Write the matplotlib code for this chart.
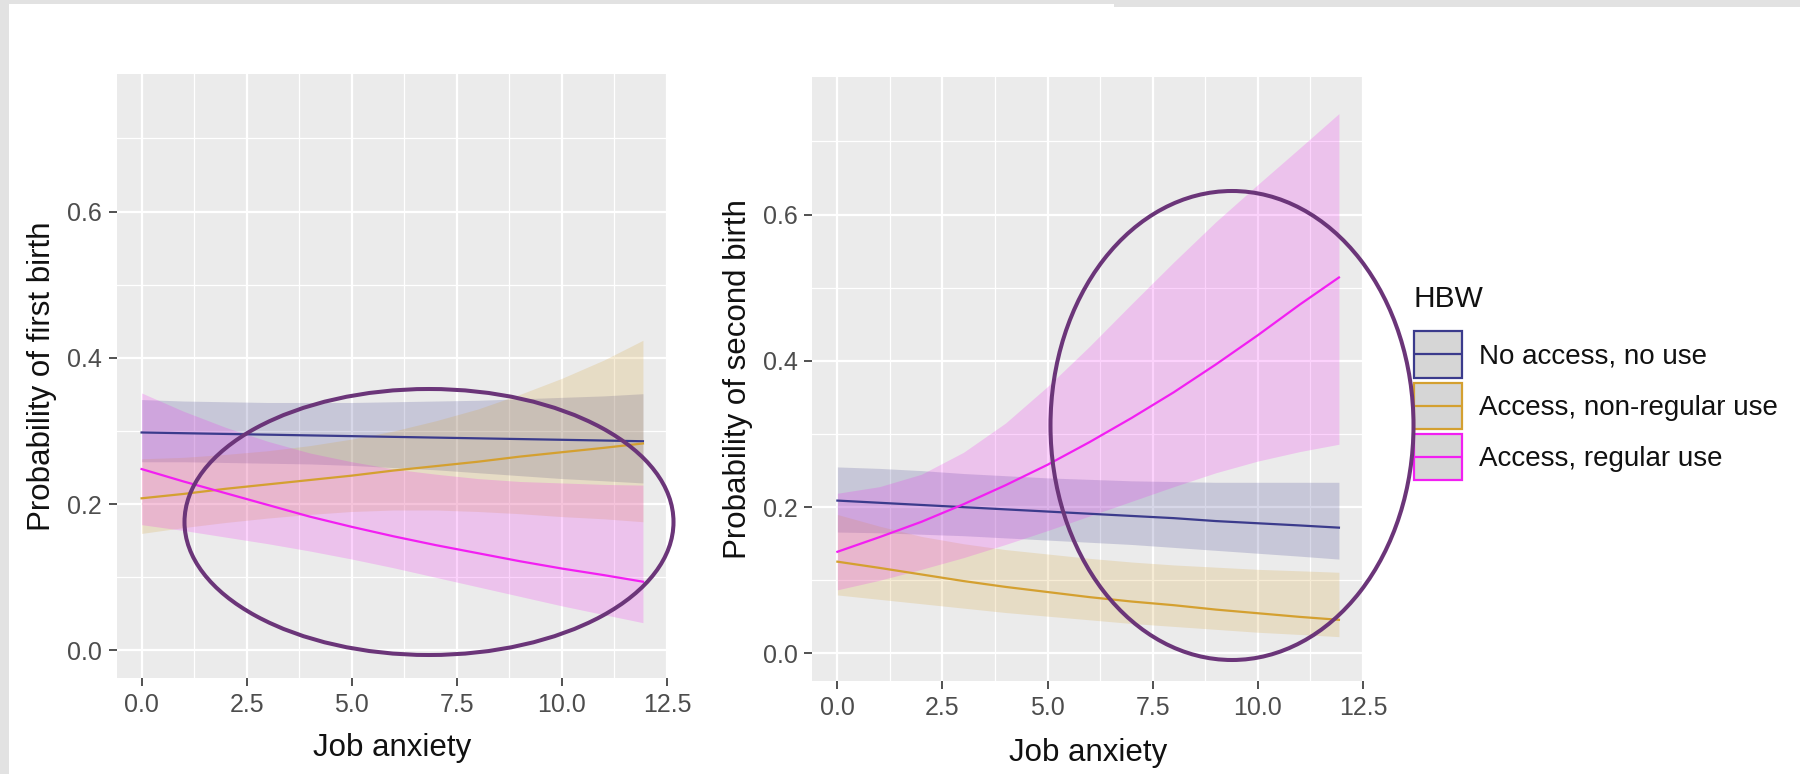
import matplotlib
matplotlib.use("Agg")
import matplotlib.pyplot as plt
from matplotlib.patches import Ellipse, Rectangle
from matplotlib.lines import Line2D

plt.rcParams['font.family'] = ['Liberation Sans', 'DejaVu Sans']

# ---------------- data ----------------
groups = ["No access, no use", "Access, non-regular use", "Access, regular use"]
colors = ["#3B3B8C", "#D4A030", "#F21FF2"]
x_vals = [0, 1, 2, 3, 4, 5, 6, 7, 8, 9, 10, 11, 11.93]

# Panel 1: probability of first birth (fit, upper CI, lower CI per group)
p1_line = [
    [0.298, 0.297, 0.296, 0.295, 0.294, 0.293, 0.292, 0.291, 0.290, 0.289, 0.288, 0.287, 0.286],
    [0.208, 0.214, 0.221, 0.227, 0.233, 0.239, 0.246, 0.252, 0.258, 0.265, 0.271, 0.277, 0.283],
    [0.248, 0.231, 0.215, 0.199, 0.183, 0.169, 0.156, 0.144, 0.133, 0.122, 0.112, 0.103, 0.094],
]
p1_upper = [
    [0.343, 0.341, 0.340, 0.339, 0.339, 0.339, 0.340, 0.341, 0.342, 0.344, 0.346, 0.348, 0.351],
    [0.262, 0.264, 0.268, 0.273, 0.280, 0.289, 0.300, 0.314, 0.330, 0.350, 0.372, 0.397, 0.424],
    [0.352, 0.327, 0.305, 0.286, 0.270, 0.258, 0.248, 0.241, 0.235, 0.231, 0.229, 0.227, 0.226],
]
p1_lower = [
    [0.258, 0.258, 0.257, 0.256, 0.255, 0.253, 0.250, 0.247, 0.243, 0.239, 0.235, 0.232, 0.229],
    [0.160, 0.168, 0.175, 0.181, 0.186, 0.190, 0.192, 0.192, 0.190, 0.187, 0.183, 0.180, 0.176],
    [0.172, 0.164, 0.155, 0.146, 0.136, 0.125, 0.113, 0.100, 0.087, 0.074, 0.061, 0.049, 0.038],
]

# Panel 2: probability of second birth
p2_line = [
    [0.209, 0.206, 0.203, 0.200, 0.197, 0.194, 0.191, 0.188, 0.185, 0.181, 0.178, 0.175, 0.172],
    [0.1255, 0.117, 0.108, 0.099, 0.091, 0.084, 0.077, 0.071, 0.066, 0.060, 0.055, 0.050, 0.046],
    [0.139, 0.159, 0.180, 0.204, 0.230, 0.258, 0.289, 0.322, 0.357, 0.395, 0.435, 0.477, 0.514],
]
p2_upper = [
    [0.255, 0.253, 0.250, 0.246, 0.243, 0.240, 0.238, 0.236, 0.235, 0.234, 0.234, 0.234, 0.234],
    [0.190, 0.174, 0.160, 0.150, 0.142, 0.136, 0.130, 0.125, 0.121, 0.118, 0.115, 0.113, 0.111],
    [0.219, 0.228, 0.245, 0.275, 0.315, 0.365, 0.420, 0.478, 0.535, 0.590, 0.641, 0.691, 0.738],
]
p2_lower = [
    [0.166, 0.165, 0.163, 0.161, 0.158, 0.155, 0.152, 0.149, 0.145, 0.141, 0.137, 0.133, 0.129],
    [0.080, 0.074, 0.068, 0.062, 0.056, 0.051, 0.046, 0.041, 0.037, 0.033, 0.029, 0.026, 0.023],
    [0.087, 0.100, 0.115, 0.131, 0.149, 0.168, 0.188, 0.208, 0.228, 0.247, 0.263, 0.276, 0.286],
]

x_ticks = [0, 2.5, 5, 7.5, 10, 12.5]
x_ticklabels = ["0.0", "2.5", "5.0", "7.5", "10.0", "12.5"]
y_ticks = [0, 0.2, 0.4, 0.6]
y_ticklabels = ["0.0", "0.2", "0.4", "0.6"]
x_minor = [1.25, 3.75, 6.25, 8.75, 11.25]
y_minor = [0.1, 0.3, 0.5, 0.7]

legend_title = "HBW"
xlabel = "Job anxiety"
ylabels = ["Probability of first birth", "Probability of second birth"]

# ---------------- figure ----------------
W, H = 1800, 774
fig = plt.figure(figsize=(W / 100, H / 100), dpi=100)
fig.patch.set_facecolor("white")


def fx(px):
    return px / W


def fy(py):
    return 1 - py / H


# light gray screenshot frame
frame = "#E2E2E2"
fig.add_artist(Rectangle((0, 0), fx(9), 1, transform=fig.transFigure,
                         facecolor=frame, edgecolor="none", zorder=0))
fig.add_artist(Rectangle((0, fy(3.5)), 1, 3.5 / H, transform=fig.transFigure,
                         facecolor=frame, edgecolor="none", zorder=0))
fig.add_artist(Rectangle((fx(1114), fy(7)), 1 - fx(1114), 7 / H, transform=fig.transFigure,
                         facecolor=frame, edgecolor="none", zorder=0))

panels = [
    dict(rect=[116.5, 74.4, 668.0, 677.9], line=p1_line, up=p1_upper, lo=p1_lower,
         ylab=ylabels[0], xlab_y=-0.092),
    dict(rect=[812.3, 77.4, 1364.0, 680.9], line=p2_line, up=p2_upper, lo=p2_lower,
         ylab=ylabels[1], xlab_y=-0.095),
]

for p in panels:
    l, t, r, b = p["rect"]
    ax = fig.add_axes([fx(l), fy(b), (r - l) / W, (b - t) / H])
    ax.set_facecolor("#EBEBEB")
    for s in ax.spines.values():
        s.set_visible(False)
    ax.set_xlim(-0.5965, 12.5265)
    ax.set_ylim(-0.0375, 0.7875)
    ax.set_xticks(x_ticks)
    ax.set_xticklabels(x_ticklabels)
    ax.set_yticks(y_ticks)
    ax.set_yticklabels(y_ticklabels)
    ax.set_xticks(x_minor, minor=True)
    ax.set_yticks(y_minor, minor=True)
    ax.set_axisbelow(True)
    ax.grid(which="major", color="white", linewidth=1.6)
    ax.grid(which="minor", color="white", linewidth=0.9)
    ax.tick_params(which="major", length=6, width=1.2, color="#333333",
                   labelsize=18, labelcolor="#4D4D4D")
    ax.tick_params(axis="x", which="major", pad=5)
    ax.tick_params(axis="y", which="major", pad=4.5)
    ax.tick_params(which="minor", length=0)

    for i in range(3):
        ax.fill_between(x_vals, p["lo"][i], p["up"][i], color=colors[i],
                        alpha=0.2, linewidth=0, zorder=2)
    for i in range(3):
        ax.plot(x_vals, p["line"][i], color=colors[i], linewidth=1.6, zorder=3)

    ax.set_ylabel(p["ylab"], fontsize=22.5, color="#111111")
    ax.yaxis.set_label_coords(-0.107, 0.5)
    ax.set_xlabel(xlabel, fontsize=22.5, color="#111111")
    ax.xaxis.set_label_coords(0.5, p["xlab_y"])

# ---------------- legend (ggplot style, drawn manually) ----------------
fig.text(fx(1413), fy(299), legend_title, fontsize=21.5, color="#111111",
         ha="left", va="center")
key_tops = [331, 382.5, 434]
key_h = 46.5
key_l, key_r = 1413.6, 1462
for i, top in enumerate(key_tops):
    fig.add_artist(Rectangle((fx(key_l), fy(top + key_h)), (key_r - key_l) / W, key_h / H,
                             transform=fig.transFigure, facecolor="#D6D6D6",
                             edgecolor=colors[i], linewidth=1.6, zorder=5))
    cy = fy(top + key_h / 2)
    fig.add_artist(Line2D([fx(key_l + 2), fx(key_r - 2)], [cy, cy], transform=fig.transFigure,
                          color=colors[i], linewidth=1.6, zorder=6))
    fig.text(fx(1479), fy(top + key_h / 2 + 2), groups[i], fontsize=20, color="#111111",
             ha="left", va="center")

# ---------------- highlight ellipses ----------------
ell_color = "#6B3579"
fig.add_artist(Ellipse((fx(429), fy(522)), 489 / W, 266 / H, transform=fig.transFigure,
                       fill=False, edgecolor=ell_color, linewidth=2.9, zorder=10))
fig.add_artist(Ellipse((fx(1232), fy(425.5)), 363 / W, 469 / H, transform=fig.transFigure,
                       fill=False, edgecolor=ell_color, linewidth=2.9, zorder=10))

fig.savefig("out.png", dpi=100, facecolor=fig.get_facecolor())
